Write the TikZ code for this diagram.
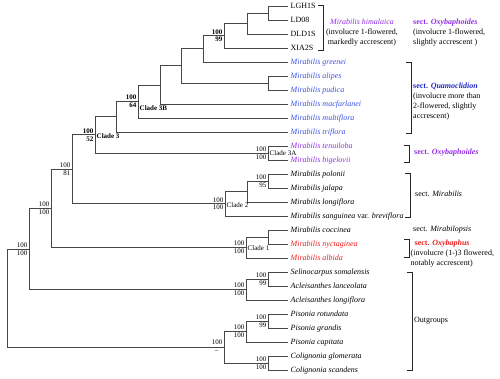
\documentclass[tikz,border=0pt]{standalone}
\usepackage{fontspec}
\setmainfont{Liberation Serif}
\definecolor{qblue}{RGB}{60,80,230}
\definecolor{qhead}{RGB}{30,40,200}
\definecolor{opurple}{RGB}{145,45,230}
\definecolor{ored}{RGB}{235,30,30}
\begin{document}
\begin{tikzpicture}[x=1pt,y=-1pt,
  br/.style={line width=0.85pt, draw=black!72},
  brk/.style={line width=0.8pt, draw=black!85},
  leaf/.style={anchor=west, inner xsep=2.5pt, inner ysep=0pt, text height=5.5pt, text depth=1.5pt, font=\fontsize{8}{9.6}\selectfont\itshape},
  sup/.style={font=\fontsize{7}{8}\selectfont, inner sep=0.5pt},
  supA/.style={sup, anchor=south east, xshift=-1pt, yshift=0.8pt},
  supB/.style={sup, anchor=north east, xshift=-1pt, yshift=-0.8pt},
  clade/.style={font=\fontsize{7}{8}\selectfont, anchor=west, inner sep=0.5pt, xshift=1pt},
  note/.style={font=\fontsize{8}{10}\selectfont, inner sep=0pt, anchor=west, align=left}
]
\useasboundingbox (0,0) rectangle (500,378);

% leaves
\node[leaf] (l0) at (288,6) {\upshape LGH1S};
\node[leaf] (l1) at (288,20) {\upshape LD08};
\node[leaf] (l2) at (288,34) {\upshape DLD1S};
\node[leaf] (l3) at (288,48) {\upshape XIA2S};
\node[leaf, text=qblue] (l4) at (288,62) {Mirabilis greenei};
\node[leaf, text=qblue] (l5) at (288,76) {Mirabilis alipes};
\node[leaf, text=qblue] (l6) at (288,90) {Mirabilis pudica};
\node[leaf, text=qblue] (l7) at (288,104) {Mirabilis macfarlanei};
\node[leaf, text=qblue] (l8) at (288,118) {Mirabilis multiflora};
\node[leaf, text=qblue] (l9) at (288,132) {Mirabilis triflora};
\node[leaf, text=opurple] (l10) at (288,146) {Mirabilis tenuiloba};
\node[leaf, text=opurple] (l11) at (288,160) {Mirabilis bigelovii};
\node[leaf] (l12) at (288,174) {Mirabilis polonii};
\node[leaf] (l13) at (288,188) {Mirabilis jalapa};
\node[leaf] (l14) at (288,202) {Mirabilis longiflora};
\node[leaf] (l15) at (288,216) {Mirabilis sanguinea \upshape var. \itshape breviflora};
\node[leaf] (l16) at (288,230) {Mirabilis coccinea};
\node[leaf, text=ored] (l17) at (288,244) {Mirabilis nyctaginea};
\node[leaf, text=ored] (l18) at (288,258) {Mirabilis albida};
\node[leaf] (l19) at (288,272) {Selinocarpus somalensis};
\node[leaf] (l20) at (288,286) {Acleisanthes lanceolata};
\node[leaf] (l21) at (288,300) {Acleisanthes longiflora};
\node[leaf] (l22) at (288,314) {Pisonia rotundata};
\node[leaf] (l23) at (288,328) {Pisonia grandis};
\node[leaf] (l24) at (288,342) {Pisonia capitata};
\node[leaf] (l25) at (288,356) {Colignonia glomerata};
\node[leaf] (l26) at (288,370) {Colignonia scandens};

% internal nodes
\coordinate (n1) at (268,13);
\coordinate (n2) at (247,23.5);
\coordinate (n3) at (224,35.75);
\coordinate (n4) at (203,48.9);
\coordinate (n5) at (268,83);
\coordinate (n6) at (181,65.9);
\coordinate (n7) at (160,85);
\coordinate (n8) at (138,101.5);
\coordinate (n9) at (116,116.7);
\coordinate (n3a) at (268,153);
\coordinate (n10) at (95,134.9);
\coordinate (n11) at (268,181);
\coordinate (n12) at (247,191.5);
\coordinate (n13) at (225,203.75);
\coordinate (nc) at (72,169.3);
\coordinate (n14) at (268,237);
\coordinate (n15) at (246,247.5);
\coordinate (nb) at (51,208.4);
\coordinate (n16) at (268,279);
\coordinate (n17) at (246,289.5);
\coordinate (na) at (29,249);
\coordinate (n18) at (268,321);
\coordinate (n19) at (246,331.5);
\coordinate (n20) at (268,363);
\coordinate (no) at (224,347.25);
\coordinate (root) at (7,298);

% edges
\draw[br] (l0.west) -| (n1);  \draw[br] (l1.west) -| (n1);
\draw[br] (n1) -| (n2);       \draw[br] (l2.west) -| (n2);
\draw[br] (n2) -| (n3);       \draw[br] (l3.west) -| (n3);
\draw[br] (n3) -| (n4);       \draw[br] (l4.west) -| (n4);
\draw[br] (l5.west) -| (n5);  \draw[br] (l6.west) -| (n5);
\draw[br] (n4) -| (n6);       \draw[br] (n5) -| (n6);
\draw[br] (n6) -| (n7);       \draw[br] (l7.west) -| (n7);
\draw[br] (n7) -| (n8);       \draw[br] (l8.west) -| (n8);
\draw[br] (n8) -| (n9);       \draw[br] (l9.west) -| (n9);
\draw[br] (l10.west) -| (n3a); \draw[br] (l11.west) -| (n3a);
\draw[br] (n9) -| (n10);      \draw[br] (n3a) -| (n10);
\draw[br] (l12.west) -| (n11); \draw[br] (l13.west) -| (n11);
\draw[br] (n11) -| (n12);     \draw[br] (l14.west) -| (n12);
\draw[br] (n12) -| (n13);     \draw[br] (l15.west) -| (n13);
\draw[br] (n10) -| (nc);      \draw[br] (n13) -| (nc);
\draw[br] (l16.west) -| (n14); \draw[br] (l17.west) -| (n14);
\draw[br] (n14) -| (n15);     \draw[br] (l18.west) -| (n15);
\draw[br] (nc) -| (nb);       \draw[br] (n15) -| (nb);
\draw[br] (l19.west) -| (n16); \draw[br] (l20.west) -| (n16);
\draw[br] (n16) -| (n17);     \draw[br] (l21.west) -| (n17);
\draw[br] (nb) -| (na);       \draw[br] (n17) -| (na);
\draw[br] (l22.west) -| (n18); \draw[br] (l23.west) -| (n18);
\draw[br] (n18) -| (n19);     \draw[br] (l24.west) -| (n19);
\draw[br] (l25.west) -| (n20); \draw[br] (l26.west) -| (n20);
\draw[br] (n19) -| (no);      \draw[br] (n20) -| (no);
\draw[br] (na) -| (root);     \draw[br] (no) -| (root);

% support values
\node[supA] (s3a) at (n3) {\textbf{100}};   \node[supB] (s3b) at (n3) {\textbf{99}};
\node[supA] (s8a) at (n8) {\textbf{100}};   \node[supB] (s8b) at (n8) {\textbf{64}};
\node[supA] (s10a) at (n10) {\textbf{100}}; \node[supB] (s10b) at (n10) {\textbf{52}};
\node[supA] (s3aa) at (n3a) {100};          \node[supB] (s3ab) at (n3a) {100};
\node[supA] (s11a) at (n11) {100};          \node[supB] (s11b) at (n11) {95};
\node[supA] (s13a) at (n13) {100};          \node[supB] (s13b) at (n13) {100};
\node[supA] (sca) at (nc) {100};            \node[supB] (scb) at (nc) {81};
\node[supA] (s15a) at (n15) {100};          \node[supB] (s15b) at (n15) {100};
\node[supA] (sba) at (nb) {100};            \node[supB] (sbb) at (nb) {100};
\node[supA] (s16a) at (n16) {100};          \node[supB] (s16b) at (n16) {99};
\node[supA] (s17a) at (n17) {100};          \node[supB] (s17b) at (n17) {100};
\node[supA] (saa) at (na) {100};            \node[supB] (sab) at (na) {100};
\node[supA] (s18a) at (n18) {100};          \node[supB] (s18b) at (n18) {99};
\node[supA] (s19a) at (n19) {100};          \node[supB] (s19b) at (n19) {100};
\node[supA] (s20a) at (n20) {100};          \node[supB] (s20b) at (n20) {100};
\node[supA, yshift=1pt] (soa) at (no) {100};
\node[sup, anchor=north east, xshift=-5pt, yshift=-3pt] (sob) at (no) {–};

% clade names
\node[clade, anchor=north west, yshift=-3.5pt] (c3b) at (n8) {\textbf{Clade 3B}};
\node[clade, yshift=-1.5pt] (c3) at (n10) {\textbf{Clade 3}};
\node[clade] (c3a) at (n3a) {Clade 3A};
\node[clade, yshift=-1pt] (c2) at (n13) {Clade 2};
\node[clade, yshift=-1pt] (c1) at (n15) {Clade 1};

% brackets
\draw[brk] (318,5) -- (323,5) -- (323,50) -- (318,50);
\draw[brk] (406,62) -- (411,62) -- (411,133) -- (406,133);
\draw[brk] (404,145) -- (409,145) -- (409,162) -- (404,162);
\draw[brk] (405,173) -- (410,173) -- (410,217) -- (405,217);
\draw[brk] (404,239) -- (409,239) -- (409,257) -- (404,257);
\draw[brk] (407,272) -- (412,272) -- (412,370) -- (407,370);

% annotations
\node[note, anchor=center, align=center] (t1) at (362,33) {\textcolor{opurple}{\itshape Mirabilis himalaica}\\(involucre 1-flowered,\\markedly accrescent)};
\node[note] (t2) at (413,33) {\textcolor{opurple}{\bfseries sect. \itshape Oxybaphoides}\\(involucre 1-flowered,\\slightly accrescent )};
\node[note] (t3) at (413,102) {\textcolor{qhead}{\bfseries sect. \itshape Quamoclidion}\\(involucre more than\\2-flowered, slightly\\accrescent)};
\node[note] (t4) at (414,153) {\textcolor{opurple}{\bfseries sect. \itshape Oxybaphoides}};
\node[note] (t5) at (415,194) {sect. \textit{Mirabilis}};
\node[note] (t6) at (413,230) {sect. \textit{Mirabilopsis}};
\node[note] (t7) at (410.5,253.5) {\hspace*{4pt}\textcolor{ored}{\bfseries sect. \itshape Oxybaphus}\\(involucre (1-)3 flowered,\\notably accrescent)};
\node[note] (t8) at (414,321) {Outgroups};
\end{tikzpicture}
\end{document}
